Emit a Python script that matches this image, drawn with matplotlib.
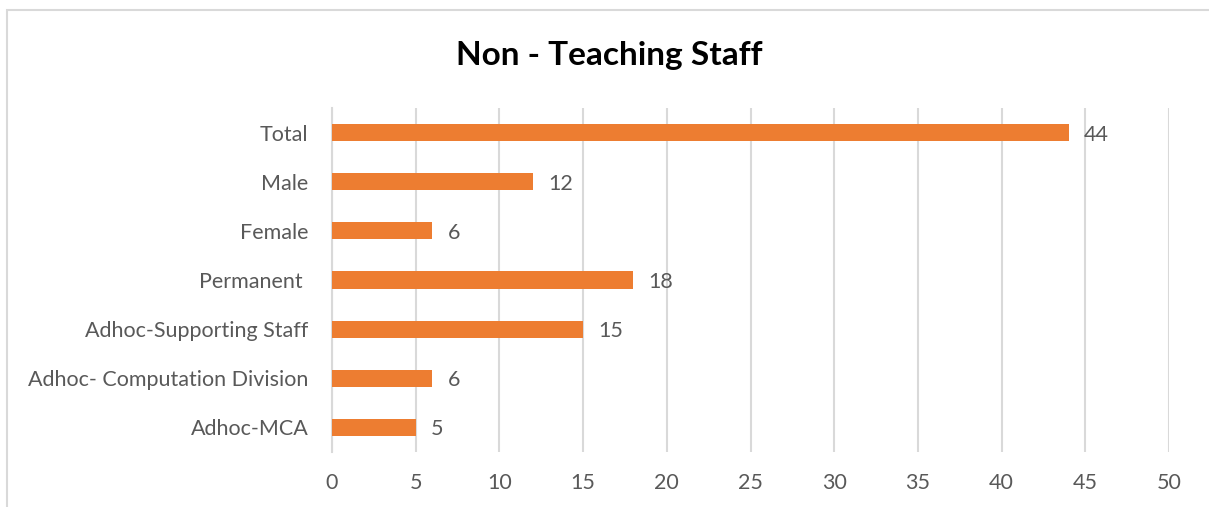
import matplotlib.pyplot as plt
from matplotlib.patches import Rectangle

categories = ["Total", "Male", "Female", "Permanent ", "Adhoc-Supporting Staff",
              "Adhoc- Computation Division", "Adhoc-MCA"]
counts = [44, 12, 6, 18, 15, 6, 5]
x_ticks = [0, 5, 10, 15, 20, 25, 30, 35, 40, 45, 50]

bar_color = "#ED7D31"
text_color = "#595959"
grid_color = "#D9D9D9"

plt.rcParams["font.family"] = ["Lato", "DejaVu Sans"]

fig = plt.figure(figsize=(12.09, 5.07), dpi=100)
ax = fig.add_axes([332 / 1209, 1 - 452 / 507, (1169 - 332) / 1209, 344 / 507])

# outer chart border (cropped at right and bottom)
fig.patches.append(Rectangle((7 / 1209, -0.1), 1.2, 1 - 9.5 / 507 + 0.1,
                             transform=fig.transFigure, fill=False,
                             edgecolor=grid_color, linewidth=1.5))

pos = list(range(len(categories)))
ax.barh(pos, counts, height=0.35, color=bar_color, zorder=3)
for p, v in zip(pos, counts):
    ax.text(v + 0.9, p + 0.04, str(v), va="center", ha="left",
            fontsize=15.5, color=text_color)

ax.set_xlim(0, 50)
ax.set_ylim(len(categories) - 0.5, -0.5)
ax.set_xticks(x_ticks)
ax.set_yticks(pos)
ax.set_yticklabels(categories)
ax.tick_params(axis="both", length=0, labelsize=15.5, colors=text_color)
ax.tick_params(axis="x", pad=15)
ax.tick_params(axis="y", pad=17)
ax.grid(axis="x", color=grid_color, linewidth=1.5, zorder=0)
for side in ["top", "right", "bottom"]:
    ax.spines[side].set_visible(False)
ax.spines["left"].set_color(grid_color)
ax.spines["left"].set_linewidth(1.5)

fig.text(609 / 1209, 1 - 55 / 507, "Non - Teaching Staff", ha="center", va="center",
         fontsize=24, fontweight="bold", color="black")

fig.savefig("out.png", dpi=100)
